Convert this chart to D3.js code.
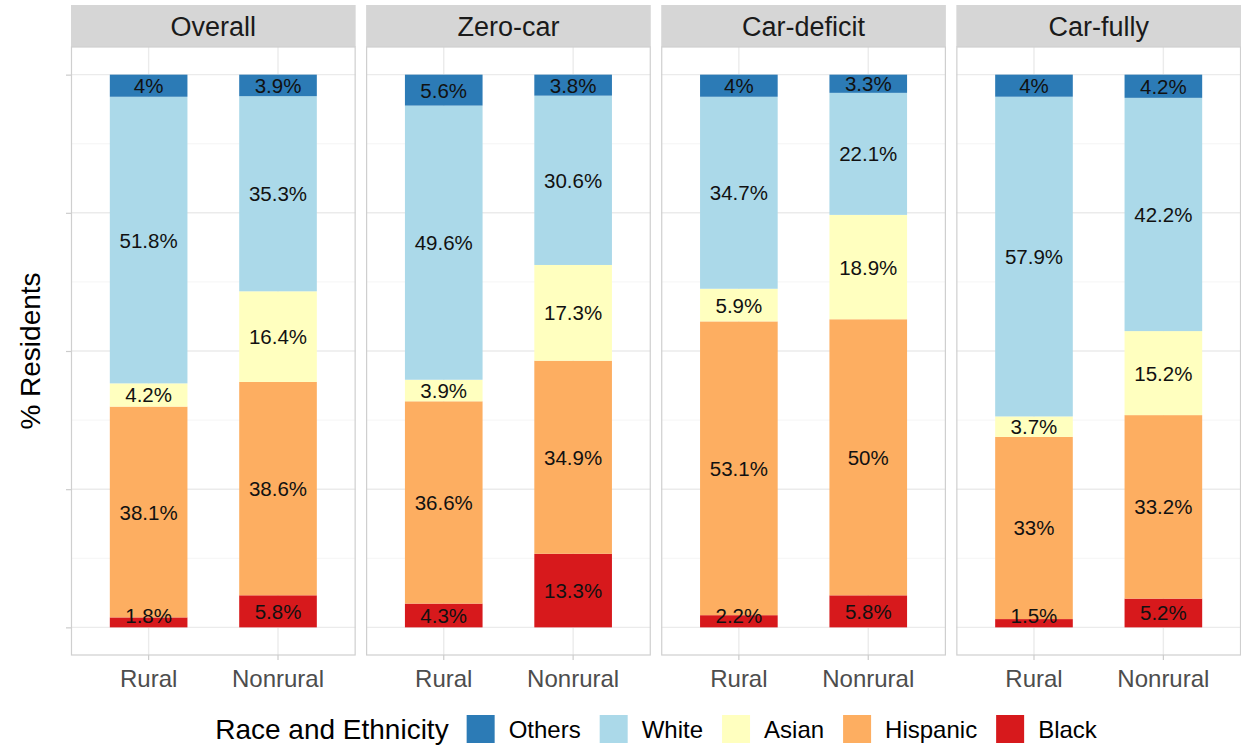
<!DOCTYPE html>
<html>
<head>
<meta charset="utf-8">
<script src="https://cdn.jsdelivr.net/npm/d3@7"></script>
<style>
  body { margin: 0; background: #fff; }
  svg { display: block; font-family: "Liberation Sans", Arial, sans-serif; }
</style>
</head>
<body>
<div id="chart"></div>
<script>
// facets and bars
const facets = ["Overall", "Zero-car", "Car-deficit", "Car-fully"];
const areas = ["Rural", "Nonrural"];

// stack order, bottom to top
const groups = ["Black", "Hispanic", "Asian", "White", "Others"];
const legendOrder = ["Others", "White", "Asian", "Hispanic", "Black"];
const colors = ["#d7191c", "#fdae61", "#ffffbf", "#abd9e9", "#2c7bb6"];

// values per bar: Overall R, Overall NR, Zero-car R, Zero-car NR, Car-deficit R, Car-deficit NR, Car-fully R, Car-fully NR
const black    = [1.8, 5.8, 4.3, 13.3, 2.2, 5.8, 1.5, 5.2];
const hispanic = [38.1, 38.6, 36.6, 34.9, 53.1, 50, 33, 33.2];
const asian    = [4.2, 16.4, 3.9, 17.3, 5.9, 18.9, 3.7, 15.2];
const white    = [51.8, 35.3, 49.6, 30.6, 34.7, 22.1, 57.9, 42.2];
const others   = [4, 3.9, 5.6, 3.8, 4, 3.3, 4, 4.2];

const yTicks = [0, 0.25, 0.5, 0.75, 1];
const yMinor = [0.125, 0.375, 0.625, 0.875];

const seriesValues = [black, hispanic, asian, white, others];

// build rows for d3.stack
const rows = [];
facets.forEach((f, fi) => {
  areas.forEach((a, ai) => {
    const i = fi * areas.length + ai;
    const row = { facet: f, area: a };
    groups.forEach((g, gi) => { row[g] = seriesValues[gi][i]; });
    rows.push(row);
  });
});

const W = 1241, H = 748;
const svg = d3.select("#chart").append("svg")
  .attr("width", W).attr("height", H);

const panelTop = 47, panelBottom = 655;
const stripTop = 5;

const fx = d3.scaleBand().domain(facets).range([71, 1241]).paddingInner(0.0355);
const pw = fx.bandwidth();
const x = d3.scaleBand().domain(areas).range([0, pw]).paddingInner(0.4).paddingOuter(0.3);
const y = d3.scaleLinear().domain([-0.05, 1.05]).range([panelBottom, panelTop]);

const color = d3.scaleOrdinal().domain(groups).range(colors);

// position = "fill"
const stack = d3.stack().keys(groups).offset(d3.stackOffsetExpand);
const stacked = stack(rows);

// labels on very thin bottom segments sit a bit higher
const minLabelPos = 0.022;

facets.forEach(f => {
  const g = svg.append("g").attr("transform", "translate(" + fx(f) + ",0)");

  // strip
  g.append("rect")
    .attr("x", 0).attr("y", stripTop)
    .attr("width", pw).attr("height", panelTop - stripTop)
    .attr("fill", "#d6d6d6");
  g.append("text")
    .attr("x", pw / 2).attr("y", (stripTop + panelTop) / 2 + 1)
    .attr("text-anchor", "middle").attr("dominant-baseline", "central")
    .attr("font-size", 27).attr("fill", "#1a1a1a")
    .text(f);

  // grid
  g.selectAll(".minor").data(yMinor).enter().append("line")
    .attr("x1", 0).attr("x2", pw)
    .attr("y1", d => y(d)).attr("y2", d => y(d))
    .attr("stroke", "#f2f2f2").attr("stroke-width", 0.8);
  g.selectAll(".major").data(yTicks).enter().append("line")
    .attr("x1", 0).attr("x2", pw)
    .attr("y1", d => y(d)).attr("y2", d => y(d))
    .attr("stroke", "#ebebeb").attr("stroke-width", 1.4);
  g.selectAll(".vgrid").data(areas).enter().append("line")
    .attr("x1", d => x(d) + x.bandwidth() / 2).attr("x2", d => x(d) + x.bandwidth() / 2)
    .attr("y1", panelTop).attr("y2", panelBottom)
    .attr("stroke", "#ebebeb").attr("stroke-width", 1.4);

  // bars
  stacked.forEach(layer => {
    layer.forEach(d => {
      if (d.data.facet !== f) return;
      g.append("rect")
        .attr("x", x(d.data.area))
        .attr("width", x.bandwidth())
        .attr("y", y(d[1]))
        .attr("height", y(d[0]) - y(d[1]))
        .attr("fill", color(layer.key));
    });
  });

  // labels
  stacked.forEach(layer => {
    layer.forEach(d => {
      if (d.data.facet !== f) return;
      const pos = Math.max((d[0] + d[1]) / 2, minLabelPos);
      g.append("text")
        .attr("x", x(d.data.area) + x.bandwidth() / 2)
        .attr("y", y(pos))
        .attr("text-anchor", "middle").attr("dominant-baseline", "central")
        .attr("font-size", 20.5).attr("fill", "#111")
        .text(d.data[layer.key] + "%");
    });
  });

  // panel border
  g.append("rect")
    .attr("x", 0.5).attr("y", panelTop)
    .attr("width", pw - 1).attr("height", panelBottom - panelTop)
    .attr("fill", "none").attr("stroke", "#cfcfcf").attr("stroke-width", 1.2);

  // x axis
  const xa = g.append("g").attr("transform", "translate(0," + panelBottom + ")")
    .call(d3.axisBottom(x).tickSize(5).tickPadding(10));
  xa.select(".domain").remove();
  xa.selectAll(".tick line").attr("stroke", "#cccccc").attr("stroke-width", 1.2);
  xa.selectAll(".tick text")
    .attr("font-size", 24).attr("fill", "#4d4d4d")
    .attr("font-family", "Liberation Sans, Arial, sans-serif");
});

// y axis ticks (no labels)
const ya = svg.append("g").attr("transform", "translate(" + fx(facets[0]) + ",0)")
  .call(d3.axisLeft(y).tickValues(yTicks).tickSize(5).tickFormat(""));
ya.select(".domain").remove();
ya.selectAll(".tick line").attr("stroke", "#cccccc").attr("stroke-width", 1.2);

// y title
svg.append("text")
  .attr("transform", "translate(30," + (panelTop + panelBottom) / 2 + ") rotate(-90)")
  .attr("text-anchor", "middle").attr("dominant-baseline", "central")
  .attr("font-size", 28).attr("fill", "#000")
  .text("% Residents");

// legend
const legendY = 729;
const leg = svg.append("g");
const title = leg.append("text")
  .attr("x", 0).attr("y", legendY)
  .attr("dominant-baseline", "central")
  .attr("font-size", 28).attr("fill", "#000")
  .text("Race and Ethnicity");
let cx = title.node().getComputedTextLength() + 18;
legendOrder.forEach(k => {
  leg.append("rect")
    .attr("x", cx).attr("y", legendY - 14)
    .attr("width", 28).attr("height", 28)
    .attr("fill", color(k));
  const t = leg.append("text")
    .attr("x", cx + 42).attr("y", legendY)
    .attr("dominant-baseline", "central")
    .attr("font-size", 24).attr("fill", "#000")
    .text(k);
  cx += 42 + t.node().getComputedTextLength() + 19;
});
const legW = cx - 19;
const panelCenter = (71 + 1241) / 2;
leg.attr("transform", "translate(" + (panelCenter - legW / 2) + ",0)");
</script>
</body>
</html>
